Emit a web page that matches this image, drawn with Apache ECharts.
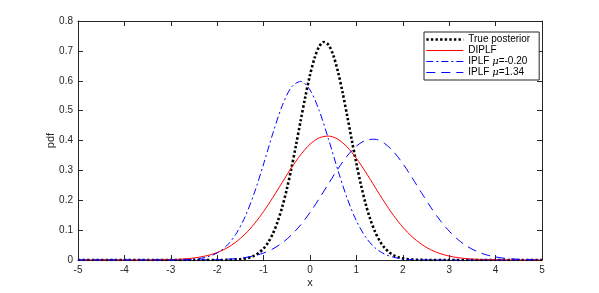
<!DOCTYPE html>
<html>
<head>
<meta charset="utf-8">
<script src="https://cdn.jsdelivr.net/npm/echarts@6/dist/echarts.min.js"></script>
<style>
html,body{margin:0;padding:0;background:#fff;}
#chart{width:599px;height:293px;}
</style>
</head>
<body>
<div id="chart"></div>
<script>
// ---- data ----
const seriesNames = ['True posterior', 'DIPLF', 'IPLF μ=-0.20', 'IPLF μ=1.34'];

const xTrue = [-5, -4, -3, -2.5,
  -2, -1.9, -1.8, -1.7, -1.6, -1.5, -1.4, -1.3, -1.2, -1.1, -1, -0.9, -0.8, -0.7, -0.6, -0.5,
  -0.4, -0.3, -0.2, -0.1, 0, 0.1, 0.2, 0.3, 0.4, 0.5, 0.6, 0.7, 0.8, 0.9, 1, 1.1, 1.2, 1.3,
  1.4, 1.5, 1.6, 1.7, 1.8, 1.9, 2, 2.1, 2.2, 2.3, 2.4, 2.5,
  3, 4, 5];
const yTrue = [0, 0, 0, 0,
  0.0001, 0.0002, 0.0004, 0.0007, 0.0014, 0.0027, 0.0048, 0.0086, 0.0146, 0.0242, 0.0385, 0.0593, 0.0883, 0.127, 0.1765, 0.237,
  0.3075, 0.3857, 0.4673, 0.5472, 0.6191, 0.6768, 0.715, 0.7299, 0.7199, 0.6862, 0.632, 0.5624, 0.4836, 0.4019, 0.3227, 0.2504, 0.1877, 0.1359,
  0.0952, 0.0644, 0.0421, 0.0266, 0.0162, 0.0096, 0.0054, 0.003, 0.0016, 0.0008, 0.0004, 0.0002,
  0, 0, 0];

const xGrid = [-5, -4.8, -4.6, -4.4, -4.2, -4, -3.8, -3.6, -3.4, -3.2, -3, -2.8, -2.6, -2.4, -2.2, -2,
  -1.8, -1.6, -1.4, -1.2, -1, -0.8, -0.6, -0.4, -0.2, 0, 0.2, 0.4, 0.6, 0.8, 1, 1.2, 1.4, 1.6, 1.8, 2,
  2.2, 2.4, 2.6, 2.8, 3, 3.2, 3.4, 3.6, 3.8, 4, 4.2, 4.4, 4.6, 4.8, 5];

const yDIPLF = [0, 0, 0, 0, 0, 0, 0.0001, 0.0002, 0.0003, 0.0007, 0.0014, 0.0027, 0.005, 0.009, 0.0153, 0.025,
  0.0394, 0.0596, 0.0867, 0.121, 0.1624, 0.2093, 0.2593, 0.3085, 0.3527, 0.3875, 0.4091, 0.4148, 0.4042, 0.3784, 0.3403, 0.2941, 0.2441, 0.1948, 0.1493, 0.1099,
  0.0778, 0.0529, 0.0345, 0.0217, 0.0131, 0.0076, 0.0042, 0.0023, 0.0012, 0.0006, 0.0003, 0.0001, 0, 0, 0];

const yIPLFneg = [0, 0, 0, 0, 0, 0, 0, 0, 0, 0.0001, 0.0002, 0.0007, 0.0018, 0.0047, 0.011, 0.0236,
  0.0468, 0.0857, 0.1444, 0.2244, 0.3214, 0.4242, 0.5161, 0.5786, 0.5978, 0.5692, 0.4995, 0.404, 0.3011, 0.2068, 0.131, 0.0764, 0.0411, 0.0203, 0.0093, 0.0039,
  0.0015, 0.0005, 0.0002, 0, 0, 0, 0, 0, 0, 0, 0, 0, 0, 0, 0];

const yIPLFpos = [0, 0, 0, 0, 0, 0, 0, 0, 0, 0, 0, 0, 0.0001, 0.0003, 0.0006, 0.0012,
  0.0024, 0.0045, 0.0081, 0.0141, 0.0234, 0.0373, 0.0571, 0.0838, 0.1178, 0.159, 0.2059, 0.2557, 0.3046, 0.348, 0.3813, 0.4009, 0.4042, 0.391, 0.3628, 0.3228,
  0.2756, 0.2256, 0.1772, 0.1335, 0.0965, 0.0669, 0.0445, 0.0284, 0.0173, 0.0102, 0.0057, 0.0031, 0.0016, 0.0008, 0.0004];

function pairs(xs, ys) { return xs.map((x, i) => [x, ys[i]]); }

const FONT = "'Liberation Sans', Arial, Helvetica, sans-serif";
const AX = '#262626';

const styles = [
  {color: '#000', width: 2.6, type: [2.4, 2.2], cap: 'butt'},
  {color: '#ff0000', width: 1, type: 'solid'},
  {color: '#0000ff', width: 1, type: [7, 3, 2, 3]},
  {color: '#0000ff', width: 1, type: [9, 6]}
];

const chart = echarts.init(document.getElementById('chart'), null, {renderer: 'canvas'});

const baseX = {
  type: 'value', min: -5, max: 5, interval: 1,
  axisLine: {show: true, onZero: false, lineStyle: {color: AX, width: 1}},
  axisTick: {show: true, inside: true, length: 5, lineStyle: {color: AX}},
  splitLine: {show: false}
};
const baseY = {
  type: 'value', min: 0, max: 0.8, interval: 0.1,
  axisLine: {show: true, onZero: false, lineStyle: {color: AX, width: 1}},
  axisTick: {show: true, inside: true, length: 5, lineStyle: {color: AX}},
  splitLine: {show: false}
};

const allData = [pairs(xTrue, yTrue), pairs(xGrid, yDIPLF), pairs(xGrid, yIPLFneg), pairs(xGrid, yIPLFpos)];

const option = {
  animation: false,
  backgroundColor: '#fff',
  textStyle: {fontFamily: FONT},
  grid: {left: 78, right: 57, top: 21, bottom: 33, containLabel: false},
  xAxis: [
    Object.assign({}, baseX, {
      position: 'bottom',
      axisLabel: {color: AX, fontSize: 10, fontFamily: FONT, margin: 5},
      name: 'x', nameLocation: 'middle', nameGap: 17, nameMoveOverlap: false,
      nameTextStyle: {color: AX, fontSize: 11, fontFamily: FONT}
    }),
    Object.assign({}, baseX, {position: 'top', axisLabel: {show: false}})
  ],
  yAxis: [
    Object.assign({}, baseY, {
      position: 'left',
      axisLabel: {color: AX, fontSize: 10, fontFamily: FONT, margin: 5,
        formatter: v => (v === 0 ? '0' : v.toFixed(1))},
      name: 'pdf', nameLocation: 'middle', nameGap: 22, nameRotate: 90, nameMoveOverlap: false,
      nameTextStyle: {color: AX, fontSize: 11, fontFamily: FONT}
    }),
    Object.assign({}, baseY, {position: 'right', axisLabel: {show: false}})
  ],
  legend: {
    orient: 'vertical',
    left: 424, top: 32,
    padding: [2, 9, 2, 1],
    itemWidth: 37, itemHeight: 10, itemGap: 0,
    borderColor: AX, borderWidth: 1, backgroundColor: '#fff',
    data: seriesNames.map((n, i) => ({
      name: n,
      itemStyle: {opacity: 0, borderWidth: 0},
      lineStyle: Object.assign({opacity: 1}, styles[i])
    })),
    formatter: n => n.replace('μ', '{m|μ}'),
    textStyle: {color: '#000', fontSize: 10, lineHeight: 11, fontFamily: FONT,
      rich: {m: {fontStyle: 'italic', fontSize: 10, fontFamily: "'DejaVu Serif', serif", color: '#000'}}}
  },
  series: seriesNames.map((n, i) => ({
    name: n, type: 'line', data: allData[i],
    symbol: 'none', smooth: 0.3,
    lineStyle: styles[i],
    itemStyle: {color: styles[i].color}
  }))
};
chart.setOption(option);
</script>
</body>
</html>
